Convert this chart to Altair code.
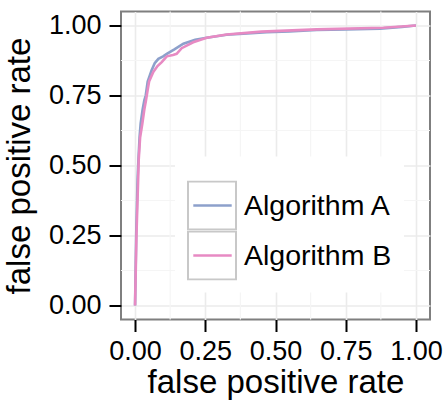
import altair as alt
import pandas as pd

# ROC curve points for the two algorithms
fpr_a = [0.0, 0.004, 0.009, 0.012, 0.016, 0.020, 0.027, 0.033, 0.038, 0.045, 0.059, 0.070,
         0.083, 0.100, 0.113, 0.140, 0.172, 0.214, 0.255, 0.326, 0.400, 0.469, 0.550,
         0.647, 0.750, 0.872, 0.950, 1.0]
tpr_a = [0.0, 0.250, 0.450, 0.520, 0.600, 0.650, 0.700, 0.733, 0.750, 0.800, 0.840, 0.865,
         0.881, 0.890, 0.899, 0.915, 0.935, 0.949, 0.956, 0.967, 0.972, 0.976, 0.979,
         0.984, 0.986, 0.989, 0.995, 1.0]

fpr_b = [0.0, 0.005, 0.011, 0.013, 0.018, 0.026, 0.033, 0.039, 0.045, 0.050, 0.065, 0.080,
         0.095, 0.113, 0.135, 0.148, 0.166, 0.207, 0.255, 0.326, 0.450, 0.647, 0.884, 1.0]
tpr_b = [0.0, 0.250, 0.450, 0.520, 0.600, 0.650, 0.700, 0.733, 0.770, 0.800, 0.834, 0.855,
         0.869, 0.890, 0.895, 0.899, 0.919, 0.940, 0.956, 0.968, 0.978, 0.986, 0.992, 1.0]

series_names = ["Algorithm A", "Algorithm B"]
series_colors = ["#8DA0CB", "#E78AC3"]
tick_values = [0.0, 0.25, 0.5, 0.75, 1.0]
minor_values = [0.125, 0.375, 0.625, 0.875]

rows = []
for name, xs, ys in [(series_names[0], fpr_a, tpr_a), (series_names[1], fpr_b, tpr_b)]:
    for i, (fx, ty) in enumerate(zip(xs, ys)):
        rows.append({"series": name, "box": name, "idx": i, "fpr": fx, "tpr": ty})
roc = pd.DataFrame(rows)
minor = pd.DataFrame({"v": minor_values})

FONT = "Liberation Sans"
x_scale = alt.Scale(domain=[-0.05, 1.05], nice=False, zero=False)
y_scale = alt.Scale(domain=[-0.05, 1.05], nice=False, zero=False)

common_axis = dict(
    values=tick_values, format=".2f", domain=False,
    grid=True, gridColor="#EBEBEB", gridWidth=1.6,
    ticks=True, tickColor="#000000", tickWidth=2, tickSize=12,
    labelFont=FONT, labelFontSize=27, labelColor="#000000",
    titleFont=FONT, titleFontSize=33, titleColor="#000000", titleFontWeight="normal",
)
x_axis = alt.Axis(title="false positive rate", labelPadding=7,
                  titleY=73, titleBaseline="alphabetic", **common_axis)
y_axis = alt.Axis(title="false positive rate", labelPadding=8,
                  titleX=-85, titleBaseline="bottom", **common_axis)

X = alt.X("fpr:Q", scale=x_scale, axis=x_axis)
Y = alt.Y("tpr:Q", scale=y_scale, axis=y_axis)

# light minor grid lines
minor_x = alt.Chart(minor).mark_rule(color="#F5F5F5", strokeWidth=1.2).encode(
    x=alt.X("v:Q", scale=x_scale, axis=x_axis)
)
minor_y = alt.Chart(minor).mark_rule(color="#F5F5F5", strokeWidth=1.2).encode(
    y=alt.Y("v:Q", scale=y_scale, axis=y_axis)
)

legend_common = dict(
    orient="none", legendX=54, legendY=145, title=" ",
    titleFontSize=10, titlePadding=2, padding=12, rowPadding=0,
    symbolSize=2304, clipHeight=50,
    labelFont=FONT, labelFontSize=28.5, labelOffset=6, labelLimit=400,
)

lines = alt.Chart(roc).mark_line(strokeWidth=2.6).encode(
    x=X, y=Y,
    order=alt.Order("idx:Q"),
    color=alt.Color(
        "series:N",
        scale=alt.Scale(domain=series_names, range=series_colors),
        legend=alt.Legend(symbolType="M-0.8,0H0.8", symbolStrokeWidth=2.5,
                          labelColor="#000000", fillColor="#FFFFFF", **legend_common),
    ),
)

# gray key boxes drawn as a second legend at the same spot
boxes = alt.Chart(roc).mark_point(shape="square", filled=False, color="#C8C8C8", opacity=0).encode(
    x=X, y=Y,
    shape=alt.Shape(
        "box:N",
        scale=alt.Scale(domain=series_names, range=["square", "square"]),
        legend=alt.Legend(symbolType="square", symbolOpacity=1, symbolStrokeColor="#C8C8C8",
                          symbolStrokeWidth=2, symbolFillColor="transparent",
                          labelOpacity=0, **legend_common),
    ),
)

chart = (
    alt.layer(minor_x, minor_y, lines, boxes)
    .resolve_scale(color="independent", shape="independent")
    .properties(
        width=309, height=308,
        autosize=alt.AutoSizeParams(type="none"),
        padding={"left": 121, "top": 11.5, "right": 16, "bottom": 83},
        background="#FFFFFF",
    )
    .configure_view(stroke="#7F7F7F", strokeWidth=2)
)

chart.save("out.html", embed_options={"renderer": "svg", "actions": False})
